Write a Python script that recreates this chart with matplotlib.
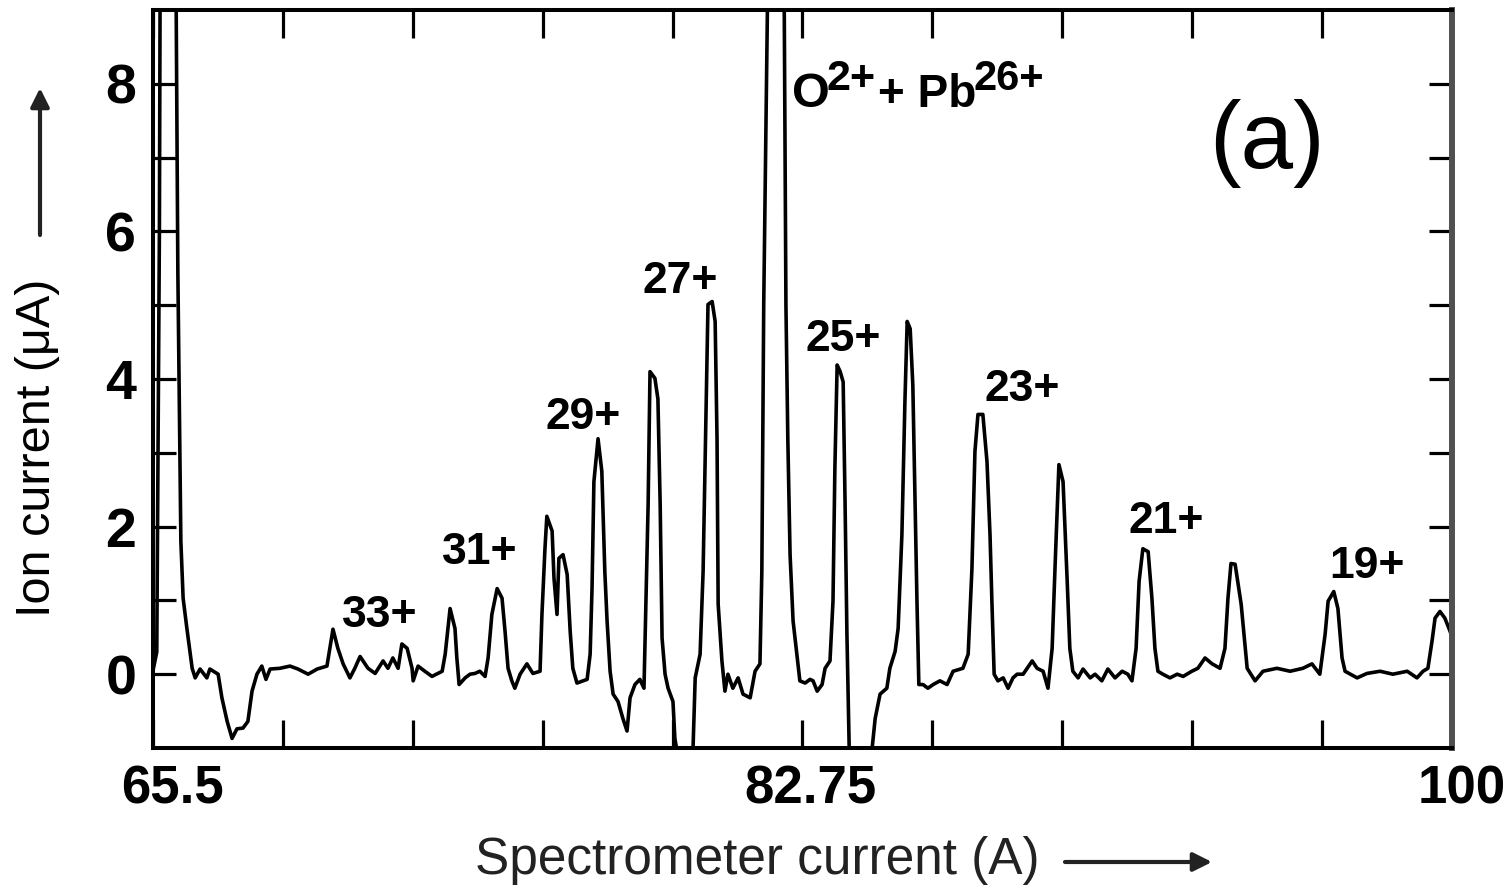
import matplotlib
matplotlib.use("Agg")
import matplotlib.pyplot as plt
import matplotlib.transforms as mtransforms

plt.rcParams['font.family'] = ['Liberation Sans', 'DejaVu Sans']

# ---- spectrum trace (spectrometer current A, ion current uA) ----
current_A = [
    65.50, 65.60, 65.67, 65.69, 65.85, 66.11, 66.16, 66.24, 66.30, 66.40, 66.54, 66.62, 66.75,
    66.93, 67.01, 67.23, 67.33, 67.47, 67.60, 67.73, 67.89, 68.02, 68.13, 68.26, 68.39, 68.50,
    68.61, 68.87, 69.14, 69.35, 69.62, 69.86, 70.12, 70.28, 70.41, 70.55, 70.73, 70.86, 71.00,
    71.21, 71.40, 71.61, 71.74, 71.87, 72.01, 72.11, 72.25, 72.38, 72.41, 72.54, 72.72, 72.91,
    73.18, 73.26, 73.39, 73.52, 73.57, 73.63, 73.79, 73.92, 74.05, 74.18, 74.32, 74.40, 74.50,
    74.64, 74.77, 74.85, 74.93, 75.03, 75.11, 75.25, 75.43, 75.59, 75.78, 75.83, 75.91, 75.96,
    76.10, 76.15, 76.23, 76.28, 76.39, 76.50, 76.58, 76.65, 76.76, 77.03, 77.11, 77.16, 77.21,
    77.32, 77.42, 77.50, 77.56, 77.64, 77.72, 77.85, 77.98, 78.09, 78.17, 78.30, 78.43, 78.54,
    78.59, 78.65, 78.70, 78.83, 78.91, 78.97, 79.02, 79.10, 79.18, 79.31, 79.36, 79.42, 79.63,
    79.84, 79.90, 80.03, 80.11, 80.19, 80.24, 80.35, 80.43, 80.48, 80.51, 80.61, 80.69, 80.77,
    80.90, 81.04, 81.17, 81.36, 81.49, 81.62, 81.67, 81.72, 81.83, 82.02, 82.26, 82.31, 82.36,
    82.42, 82.50, 82.60, 82.68, 82.82, 82.95, 83.03, 83.14, 83.27, 83.35, 83.48, 83.56, 83.61,
    83.67, 83.75, 83.83, 83.88, 83.93, 83.99, 84.28, 84.60, 84.68, 84.81, 84.99, 85.07, 85.21,
    85.29, 85.39, 85.47, 85.53, 85.61, 85.68, 85.74, 85.79, 85.84, 85.95, 86.08, 86.22, 86.40,
    86.59, 86.75, 87.01, 87.15, 87.25, 87.33, 87.41, 87.54, 87.65, 87.73, 87.78, 87.84, 87.94,
    88.08, 88.21, 88.34, 88.45, 88.61, 88.85, 88.98, 89.14, 89.27, 89.38, 89.46, 89.56, 89.67,
    89.78, 89.85, 89.93, 90.07, 90.20, 90.39, 90.52, 90.70, 90.86, 91.05, 91.24, 91.39, 91.50,
    91.61, 91.69, 91.79, 91.93, 92.03, 92.11, 92.19, 92.32, 92.51, 92.70, 92.86, 93.09, 93.25,
    93.44, 93.63, 93.84, 93.97, 94.05, 94.13, 94.24, 94.40, 94.56, 94.77, 94.98, 95.35, 95.70,
    96.04, 96.28, 96.49, 96.63, 96.71, 96.86, 96.97, 97.08, 97.16, 97.48, 97.74, 98.09, 98.43,
    98.81, 99.07, 99.23, 99.36, 99.47, 99.55, 99.68, 99.81, 99.95, 100.00,
]
ion_current_uA = [
    0.05, 0.30, 6.00, 9.50, 20.0, 9.50, 5.45, 1.80, 1.03, 0.62, 0.08, -0.05, 0.07,
    -0.05, 0.07, 0.00, -0.32, -0.64, -0.87, -0.74, -0.73, -0.64, -0.23, 0.00, 0.11, -0.07,
    0.07, 0.08, 0.11, 0.07, 0.00, 0.07, 0.11, 0.61, 0.35, 0.14, -0.05, 0.08, 0.24,
    0.08, 0.01, 0.18, 0.08, 0.22, 0.08, 0.41, 0.35, 0.08, -0.09, 0.11, 0.04, -0.03,
    0.04, 0.27, 0.89, 0.62, 0.22, -0.14, -0.05, 0.00, 0.01, 0.04, -0.03, 0.22, 0.81,
    1.16, 1.03, 0.58, 0.08, -0.09, -0.19, 0.00, 0.14, 0.01, 0.04, 0.81, 1.70, 2.14,
    1.94, 1.30, 0.81, 1.57, 1.62, 1.35, 0.58, 0.08, -0.12, -0.07, 0.27, 1.16, 2.61,
    3.19, 2.75, 1.39, 0.72, 0.04, -0.27, -0.37, -0.60, -0.77, -0.32, -0.14, -0.07, -0.19,
    0.95, 2.30, 4.10, 4.01, 3.73, 2.30, 0.49, 0.00, -0.19, -0.37, -0.87, -1.05, -1.60,
    -1.05, -0.05, 0.27, 1.39, 3.65, 5.01, 5.05, 4.78, 3.19, 0.95, 0.18, -0.23, 0.00,
    -0.19, -0.05, -0.27, -0.32, 0.04, 0.14, 1.39, 5.00, 9.50, 30.0, 9.50, 5.00, 3.19,
    1.62, 0.72, 0.27, -0.09, -0.12, -0.07, -0.09, -0.23, -0.14, 0.08, 0.18, 0.99, 2.79,
    4.19, 4.10, 3.96, 2.34, 0.54, -1.00, -1.80, -1.00, -0.60, -0.27, -0.19, 0.08, 0.31,
    0.62, 1.89, 3.69, 4.78, 4.68, 3.92, 2.34, 0.99, -0.14, -0.14, -0.19, -0.14, -0.09,
    -0.14, 0.04, 0.08, 0.27, 1.43, 3.02, 3.52, 3.52, 2.88, 1.89, 0.99, 0.00, -0.09,
    -0.05, -0.19, -0.05, 0.00, 0.00, 0.18, 0.08, 0.04, -0.19, 0.35, 1.49, 2.84, 2.61,
    1.26, 0.35, 0.04, -0.05, 0.07, -0.05, 0.00, -0.09, 0.07, -0.05, 0.04, 0.00, -0.09,
    0.35, 1.26, 1.70, 1.66, 1.03, 0.35, 0.04, 0.00, -0.05, 0.00, -0.03, 0.04, 0.08,
    0.22, 0.14, 0.08, 0.35, 1.03, 1.50, 1.49, 0.95, 0.08, -0.09, 0.04, 0.08, 0.04,
    0.08, 0.14, 0.00, 0.54, 0.99, 1.12, 0.89, 0.22, 0.04, -0.05, 0.01, 0.04, 0.00,
    0.04, -0.05, 0.04, 0.08, 0.45, 0.76, 0.85, 0.76, 0.58, 0.50,
]

# ---- axis ticks ----
x_ticks = [65.5, 68.95, 72.4, 75.85, 79.3, 82.75, 86.2, 89.65, 93.1, 96.55, 100.0]
x_tick_labels = ['65.5', '', '', '', '', '82.75', '', '', '', '', '100']
y_ticks = [0, 1, 2, 3, 4, 5, 6, 7, 8]
y_tick_labels = ['0', '', '2', '', '4', '', '6', '', '8']

# ---- peak annotations (charge states) ----
peak_labels = ['33+', '31+', '29+', '27+', '25+', '23+', '21+', '19+']
peak_label_x = [71.53, 74.18, 76.92, 79.50, 83.83, 88.58, 92.40, 97.74]
peak_label_y = [0.80, 1.65, 3.48, 5.32, 4.53, 3.86, 2.07, 1.46]

W, H = 1510, 888
fig = plt.figure(figsize=(W / 100, H / 100), dpi=100)
ax = fig.add_axes([153 / W, 140 / H, 1299 / W, 738 / H])

ax.plot(current_A, ion_current_uA, color='black', lw=2.6, solid_joinstyle='round')
ax.set_xlim(65.5, 100)
ax.set_ylim(-1, 9)

ax.set_xticks(x_ticks)
ax.set_xticklabels(x_tick_labels)
ax.set_yticks(y_ticks)
ax.set_yticklabels(y_tick_labels)
ax.tick_params(axis='x', direction='in', length=20, width=2.3, top=True, bottom=True,
               pad=12, labelsize=38)
ax.tick_params(axis='y', direction='in', length=16.5, width=2.3, left=True, right=True,
               pad=12, labelsize=40)
for lab in ax.get_xticklabels() + ax.get_yticklabels():
    lab.set_fontweight('bold')

offsets = [20, 0, 0, 0, 0, 8, 0, 0, 0, 0, 10]
for lab, dx in zip(ax.get_xticklabels(), offsets):
    lab.set_transform(lab.get_transform() +
                      mtransforms.ScaledTranslation(dx / 100, 0, fig.dpi_scale_trans))

for side in ['left', 'top', 'bottom']:
    ax.spines[side].set_linewidth(2.9)
    ax.spines[side].set_color('black')
ax.spines['right'].set_linewidth(4.3)
ax.spines['right'].set_color('#505050')

for txt, px, py in zip(peak_labels, peak_label_x, peak_label_y):
    ax.text(px, py, txt, fontsize=32, fontweight='bold', ha='center', va='center')

# O2+ + Pb26+ label (full-size raised charges)
ax.text(82.47, 7.69, 'O', fontsize=35, fontweight='bold', ha='left', va='baseline')
ax.text(83.40, 7.92, '2+', fontsize=31, fontweight='bold', ha='left', va='baseline')
ax.text(84.76, 7.69, '+ Pb', fontsize=33, fontweight='bold', ha='left', va='baseline')
ax.text(87.30, 7.92, '26+', fontsize=30, fontweight='bold', ha='left', va='baseline')

ax.text(95.09, 7.19, '(a)', fontsize=68, ha='center', va='center')

# axis titles
fig.text(38 / W, 1 - 448 / H, 'Ion current (μA)', rotation=90, fontsize=35,
         ha='center', va='center')
fig.text(757 / W, 1 - 860 / H, 'Spectrometer current (A)', fontsize=37,
         ha='center', va='center', color='#222222')

# arrows
ax.annotate('', xy=(40, H - 88), xytext=(40, H - 235), xycoords='figure pixels',
            textcoords='figure pixels',
            arrowprops=dict(arrowstyle='-|>', lw=3, color='#222222', mutation_scale=28,
                            shrinkA=0, shrinkB=0), annotation_clip=False)
ax.annotate('', xy=(1212, H - 862), xytext=(1065, H - 862), xycoords='figure pixels',
            textcoords='figure pixels',
            arrowprops=dict(arrowstyle='-|>', lw=3, color='#222222', mutation_scale=28,
                            shrinkA=0, shrinkB=0), annotation_clip=False)

fig.savefig('out.png', dpi=100)
